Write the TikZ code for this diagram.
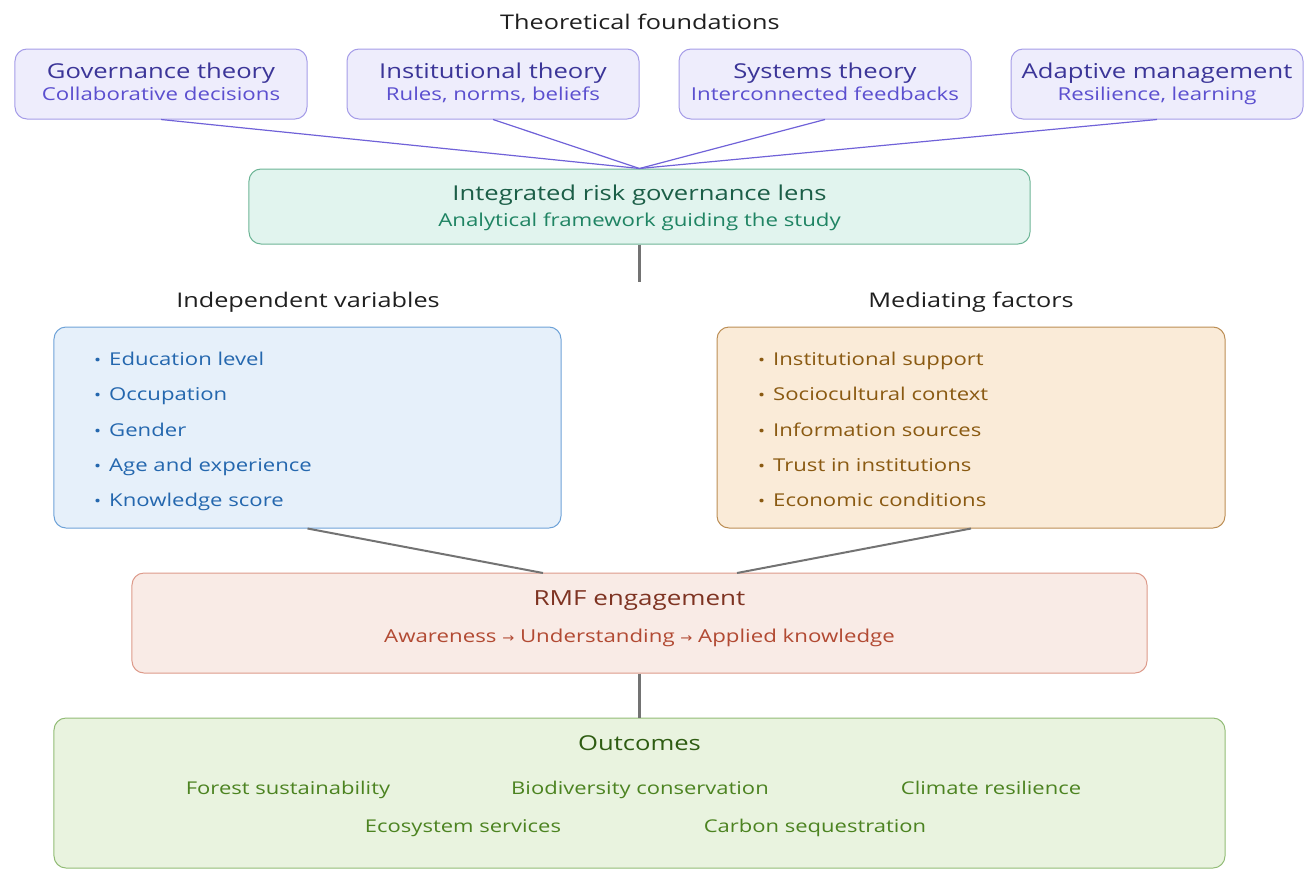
\documentclass[tikz,border=0pt]{standalone}
\usepackage{fontspec}
\setmainfont{Open Sans}[FakeStretch=1.25]
\newfontfamily\arrowfont{DejaVu Sans}[FakeStretch=1.1]
\definecolor{thfill}{HTML}{EEEDFC}
\definecolor{thdraw}{HTML}{A59CE8}
\definecolor{thtitle}{HTML}{3B3598}
\definecolor{thsub}{HTML}{5B4FCF}
\definecolor{thline}{HTML}{7062D8}
\definecolor{lnfill}{HTML}{E1F4EE}
\definecolor{lndraw}{HTML}{6DB596}
\definecolor{lntitle}{HTML}{1B5E47}
\definecolor{lnsub}{HTML}{1F8463}
\definecolor{ivfill}{HTML}{E6F0FA}
\definecolor{ivdraw}{HTML}{6FA3D8}
\definecolor{ivtext}{HTML}{2467AE}
\definecolor{mffill}{HTML}{FAEBD8}
\definecolor{mfdraw}{HTML}{BC8E55}
\definecolor{mftext}{HTML}{8A5A12}
\definecolor{rmfill}{HTML}{F9EBE6}
\definecolor{rmdraw}{HTML}{DD9A8A}
\definecolor{rmtitle}{HTML}{7E3322}
\definecolor{rmsub}{HTML}{B24A33}
\definecolor{ocfill}{HTML}{E9F3DF}
\definecolor{ocdraw}{HTML}{92BC76}
\definecolor{octitle}{HTML}{2E5C12}
\definecolor{octext}{HTML}{4C8321}
\definecolor{conn}{HTML}{737373}
\newcommand{\fsz}[1]{\fontsize{#1bp}{#1bp}\selectfont}
\newcommand{\rarr}{{\arrowfont\fsz{13}→}}
\tikzset{
  panel/.style={rectangle, rounded corners=12bp, line width=1bp, inner sep=0pt},
  txt/.style={anchor=base, inner sep=0pt},
  item/.style={anchor=base west, inner sep=0pt},
  bul/.style={anchor=base west, inner sep=0pt},
  thline/.style={draw=thline, line width=1.2bp},
  gline/.style={draw=conn, line width=2.4bp},
  gslant/.style={draw=conn, line width=2bp},
}
\begin{document}
\begin{tikzpicture}[x=1bp,y=-1bp]
\useasboundingbox (0,0) rectangle (1312,883);
% title
\node[txt, text=black!88] (ttl) at (640,29.3) {\fsz{20.2}Theoretical foundations};
% theory boxes
\node[panel, fill=thfill, draw=thdraw, minimum width=292bp, minimum height=70bp] (g1) at (161,84) {};
\node[panel, fill=thfill, draw=thdraw, minimum width=292bp, minimum height=70bp] (g2) at (493,84) {};
\node[panel, fill=thfill, draw=thdraw, minimum width=292bp, minimum height=70bp] (g3) at (825,84) {};
\node[panel, fill=thfill, draw=thdraw, minimum width=292bp, minimum height=70bp] (g4) at (1157,84) {};
\node[txt, text=thtitle] (g1t) at (161,78.3) {\fsz{20.5}Governance theory};
\node[txt, text=thsub] (g1s) at (161,100) {\fsz{17.8}Collaborative decisions};
\node[txt, text=thtitle] (g2t) at (493,78.3) {\fsz{20.5}Institutional theory};
\node[txt, text=thsub] (g2s) at (493,100) {\fsz{17.8}Rules, norms, beliefs};
\node[txt, text=thtitle] (g3t) at (825,78.3) {\fsz{20.5}Systems theory};
\node[txt, text=thsub] (g3s) at (825,100) {\fsz{17.8}Interconnected feedbacks};
\node[txt, text=thtitle] (g4t) at (1157,78.3) {\fsz{20.5}Adaptive management};
\node[txt, text=thsub] (g4s) at (1157,100) {\fsz{17.8}Resilience, learning};
% lens
\node[panel, fill=lnfill, draw=lndraw, minimum width=781bp, minimum height=75bp] (lens) at (639.5,206.5) {};
\node[txt, text=lntitle] (lenst) at (639.5,200.7) {\fsz{20.5}Integrated risk governance lens};
\node[txt, text=lnsub] (lenss) at (639.5,226.7) {\fsz{17.8}Analytical framework guiding the study};
\foreach \g in {g1,g2,g3,g4} \draw[thline] (\g.south) -- (lens.north);
\coordinate (lensend) at (639.5,282);
\draw[gline] (lens.south) -- (lensend);
% headers
\node[txt, text=black!88] (ivh) at (308,307.3) {\fsz{20.2}Independent variables};
\node[txt, text=black!88] (mfh) at (971,307.3) {\fsz{20.2}Mediating factors};
% independent variables
\node[panel, fill=ivfill, draw=ivdraw, minimum width=507bp, minimum height=201bp] (iv) at (307.5,427.5) {};
\foreach \t/\y/\n in {Education level/365/1, Occupation/400.5/2, Gender/436/3, Age and experience/471/4, Knowledge score/506/5}{
  \node[bul, text=ivtext] (ivb\n) at (94,\y) {\fsz{15}•};
  \node[item, text=ivtext] (iv\n) at (109,\y) {\fsz{17.7}\t};
}
% mediating
\node[panel, fill=mffill, draw=mfdraw, minimum width=508bp, minimum height=201bp] (mf) at (971,427.5) {};
\foreach \t/\y/\n in {Institutional support/365/1, Sociocultural context/400.5/2, Information sources/436/3, Trust in institutions/471/4, Economic conditions/506/5}{
  \node[bul, text=mftext] (mfb\n) at (758,\y) {\fsz{15}•};
  \node[item, text=mftext] (mf\n) at (773,\y) {\fsz{17.7}\t};
}
% RMF
\node[panel, fill=rmfill, draw=rmdraw, minimum width=1015bp, minimum height=100bp] (rmf) at (639.5,623) {};
\node[txt, text=rmtitle] (rmft) at (639.5,605) {\fsz{20.8}RMF engagement};
\node[txt, text=rmsub] (rmfs) at (639.5,642.7) {\fsz{17.8}Awareness \rarr{} Understanding \rarr{} Applied knowledge};
\coordinate (rmfL) at (543,573);
\coordinate (rmfR) at (737,573);
\draw[gslant] (iv.south) -- (rmfL);
\draw[gslant] (mf.south) -- (rmfR);
% outcomes
\node[panel, fill=ocfill, draw=ocdraw, minimum width=1171bp, minimum height=150bp] (oc) at (639.5,793) {};
\draw[gline] (rmf.south) -- (oc.north);
\node[txt, text=octitle] (oct) at (639.5,750) {\fsz{20.5}Outcomes};
\node[txt, text=octext] (oc1) at (288,794) {\fsz{17.6}Forest sustainability};
\node[txt, text=octext] (oc2) at (640,794) {\fsz{17.6}Biodiversity conservation};
\node[txt, text=octext] (oc3) at (991,794) {\fsz{17.6}Climate resilience};
\node[txt, text=octext] (oc4) at (463,832.7) {\fsz{17.6}Ecosystem services};
\node[txt, text=octext] (oc5) at (815,832.7) {\fsz{17.6}Carbon sequestration};
\end{tikzpicture}
\end{document}
